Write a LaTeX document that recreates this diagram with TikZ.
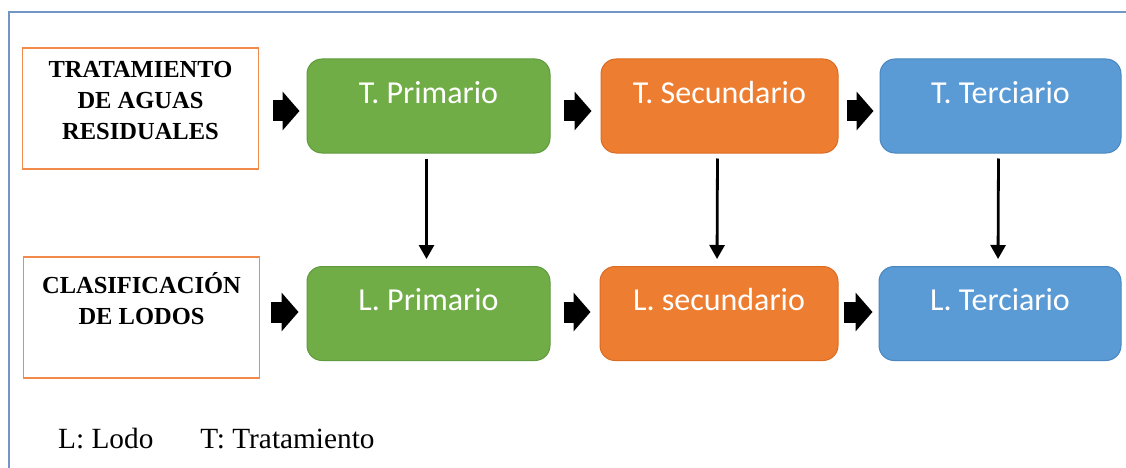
\documentclass[tikz,border=0pt]{standalone}
\usepackage{fontspec}
\setmainfont{Liberation Serif}
\newfontfamily\stagefont{Carlito}
\usetikzlibrary{arrows.meta}
\definecolor{frameblue}{HTML}{7196C6}
\definecolor{sideorange}{HTML}{F28A4C}
\definecolor{tgreen}{HTML}{70AD47}
\definecolor{tgreenline}{HTML}{5F9A3C}
\definecolor{torange}{HTML}{ED7D31}
\definecolor{torangeline}{HTML}{DA6C22}
\definecolor{tblue}{HTML}{5B9BD5}
\definecolor{tblueline}{HTML}{4A86C0}
\begin{document}
\begin{tikzpicture}[x=1pt,y=-1pt,
  sidebox/.style={draw=sideorange, line width=1.2pt, minimum width=236pt, minimum height=121pt, inner sep=0pt},
  sidetext/.style={anchor=north, align=center, inner sep=0pt, font=\fontsize{24.5}{31}\selectfont\bfseries},
  stage/.style={rounded corners=15pt, line width=1pt, minimum height=94pt, inner sep=0pt,
    text=white, font=\stagefont\fontsize{32}{36}\selectfont, text height=20pt, text depth=26pt},
  blockarr/.style={line width=21pt, -{Triangle[length=17pt,width=38pt]}},
  downarr/.style={line width=2.8pt, -{Triangle[length=14pt,width=15pt]}, shorten <=5pt, shorten >=7pt}]
\useasboundingbox (0,0) rectangle (1126,468);
\draw[frameblue, line width=1.6pt] (9,12) rectangle (1150,490);

\node[sidebox] (trat) at (140.5,108.5) {};
\node[sidetext] (tratlbl) at ([yshift=-14pt]trat.north) {TRATAMIENTO\\DE AGUAS\\RESIDUALES};
\node[sidebox] (clas) at (141.5,317.5) {};
\node[sidetext] (claslbl) at ([yshift=-16pt]clas.north) {CLASIFICACIÓN\\DE LODOS};

\node[stage, fill=tgreen, draw=tgreenline, minimum width=243pt] (tp) at (428.5,106) {T. Primario};
\node[stage, fill=torange, draw=torangeline, minimum width=237pt] (ts) at (719.5,106) {T. Secundario};
\node[stage, fill=tblue, draw=tblueline, minimum width=241pt] (tt) at (1000.5,106) {T. Terciario};
\node[stage, fill=tgreen, draw=tgreenline, minimum width=243pt] (lp) at (428.5,313.5) {L. Primario};
\node[stage, fill=torange, draw=torangeline, minimum width=238pt] (ls) at (719,313.5) {L. secundario};
\node[stage, fill=tblue, draw=tblueline, minimum width=242pt] (lt) at (1000,313.5) {L. Terciario};

\foreach \a/\b/\s/\e/\dy in {trat/tp/14/7/-5, tp/ts/13/9/-5, ts/tt/8/6/-5,
    clas/lp/11/8/1.5, lp/ls/13/9/1.5, ls/lt/5/6/1.5}
  \draw[blockarr, shorten <=\s pt, shorten >=\e pt] ([yshift=\dy pt]\a.east |- \b.west) -- ([yshift=\dy pt]\b.west);

\foreach \a/\b in {tp/lp, ts/ls, tt/lt}
  \draw[downarr] ([xshift=-2pt]\a.south) -- ([xshift=-2pt]\b.north);

\node[anchor=base west, inner sep=0pt, font=\fontsize{29.3}{34}\selectfont] (legend) at (58,448) {L: Lodo\hspace{47pt}T: Tratamiento};
\end{tikzpicture}
\end{document}
